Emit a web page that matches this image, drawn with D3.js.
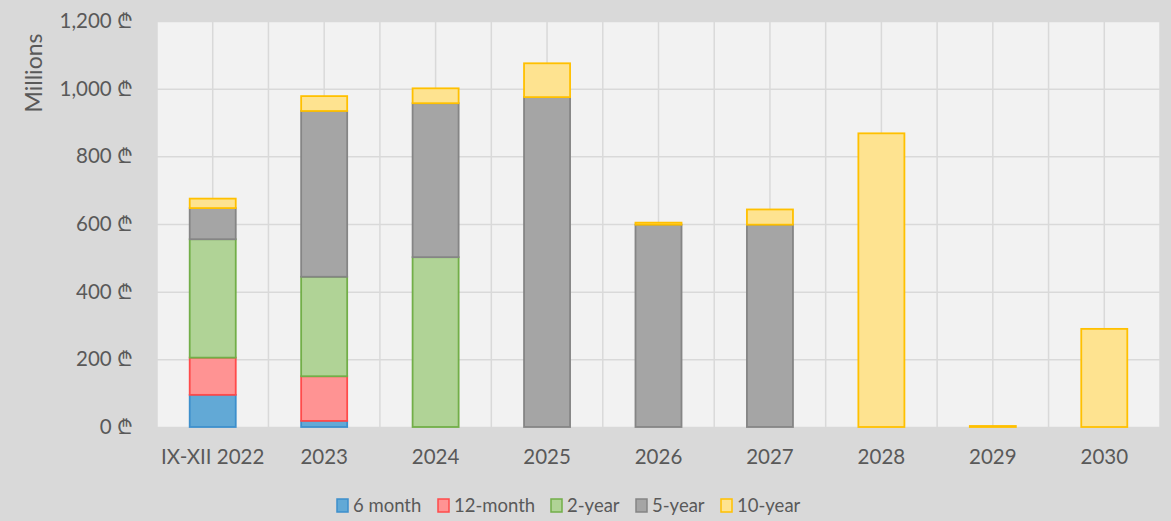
<!DOCTYPE html>
<html>
<head>
<meta charset="utf-8">
<script src="https://cdn.jsdelivr.net/npm/d3@7"></script>
<style>
  body { margin: 0; background: #d9d9d9; }
  #plot { width: 1171px; height: 521px; }
  text { font-family: Lato, "DejaVu Sans", sans-serif; fill: #595959; }
</style>
</head>
<body>
<div id="plot"></div>
<script>
// data
const categories = ["IX-XII 2022", "2023", "2024", "2025", "2026", "2027", "2028", "2029", "2030"];
const seriesNames = ["6 month", "12-month", "2-year", "5-year", "10-year"];
const sixMonth   = [95, 18, 0, 0, 0, 0, 0, 0, 0];
const twelveMonth = [110, 132, 0, 0, 0, 0, 0, 0, 0];
const twoYear    = [350, 294, 502, 0, 0, 0, 0, 0, 0];
const fiveYear   = [92, 490, 455, 975, 598, 598, 0, 0, 0];
const tenYear    = [28, 44, 44, 100, 6, 45, 868, 3, 290];
const yTicks = [0, 200, 400, 600, 800, 1000, 1200];

const fills = ["#62a9d6", "#ff9393", "#b0d396", "#a5a5a5", "#fee390"];
const strokes = ["#3d8fcc", "#ff4b4b", "#72ae48", "#858585", "#ffc000"];

const W = 1171, H = 521;
const margin = {top: 21, right: 11, bottom: 94, left: 157},
    width = W - margin.left - margin.right,
    height = H - margin.top - margin.bottom;

const svg = d3.select("#plot")
    .append("svg")
    .attr("width", W)
    .attr("height", H);

svg.append("rect").attr("width", W).attr("height", H).attr("fill", "#d9d9d9");

const g = svg.append("g")
    .attr("transform", "translate(" + margin.left + "," + margin.top + ")");

g.append("rect").attr("width", width).attr("height", height).attr("fill", "#f2f2f2");

const table = categories.map((c, i) => ({
    cat: c,
    "6 month": sixMonth[i],
    "12-month": twelveMonth[i],
    "2-year": twoYear[i],
    "5-year": fiveYear[i],
    "10-year": tenYear[i]
}));

const x = d3.scaleBand()
    .domain(categories)
    .range([0, width])
    .paddingInner(0.587)
    .paddingOuter(0.587 / 2);

const y = d3.scaleLinear()
    .domain([0, 1200])
    .range([height, 0]);

// vertical gridlines: category edges and centres
const vLines = [];
categories.forEach((c, i) => {
    vLines.push(i * x.step());
    vLines.push(x(c) + x.bandwidth() / 2);
});
vLines.push(width);
g.append("g").selectAll("line")
    .data(vLines)
    .enter().append("line")
    .attr("x1", d => d).attr("x2", d => d)
    .attr("y1", 0).attr("y2", height)
    .attr("stroke", "#d9d9d9")
    .attr("stroke-width", 1.5);

// horizontal gridlines + y labels
const yAxis = g.append("g")
    .call(d3.axisLeft(y)
        .tickValues(yTicks)
        .tickSize(-width)
        .tickPadding(24)
        .tickFormat(d => d3.format(",")(d) + " ₾"));
yAxis.select(".domain").remove();
yAxis.selectAll(".tick line").attr("stroke", "#d9d9d9").attr("stroke-width", 1.5);
yAxis.selectAll(".tick text").style("font-size", "20.5px").attr("fill", "#595959");

// bars
const stacked = d3.stack().keys(seriesNames)(table);
g.append("g").selectAll("g")
    .data(stacked)
    .enter().append("g")
    .attr("fill", (d, i) => fills[i])
    .attr("stroke", (d, i) => strokes[i])
    .attr("stroke-width", 1.8)
    .selectAll("rect")
    .data(d => d.filter(p => p[1] - p[0] > 0))
    .enter().append("rect")
    .attr("x", d => x(d.data.cat))
    .attr("width", x.bandwidth())
    .attr("y", d => y(d[1]))
    .attr("height", d => Math.max(0.5, y(d[0]) - y(d[1])));

// x labels
const xAxis = g.append("g")
    .attr("transform", "translate(0," + height + ")")
    .call(d3.axisBottom(x).tickSize(0).tickPadding(22));
xAxis.select(".domain").remove();
xAxis.selectAll(".tick text").style("font-size", "20.5px").attr("fill", "#595959");

// y title
svg.append("text")
    .attr("transform", "translate(42,73) rotate(-90)")
    .attr("text-anchor", "middle")
    .style("font-size", "23px")
    .text("Millions");

// legend
const legendX = [337, 438, 551, 636, 721];
const legend = svg.append("g").selectAll("g")
    .data(seriesNames)
    .enter().append("g")
    .attr("transform", (d, i) => "translate(" + legendX[i] + ",499)");
legend.append("rect")
    .attr("width", 11).attr("height", 13)
    .attr("fill", (d, i) => fills[i])
    .attr("stroke", (d, i) => strokes[i])
    .attr("stroke-width", 1.5);
legend.append("text")
    .attr("x", 16).attr("y", 13)
    .style("font-size", "18.5px")
    .text(d => d);
</script>
</body>
</html>
